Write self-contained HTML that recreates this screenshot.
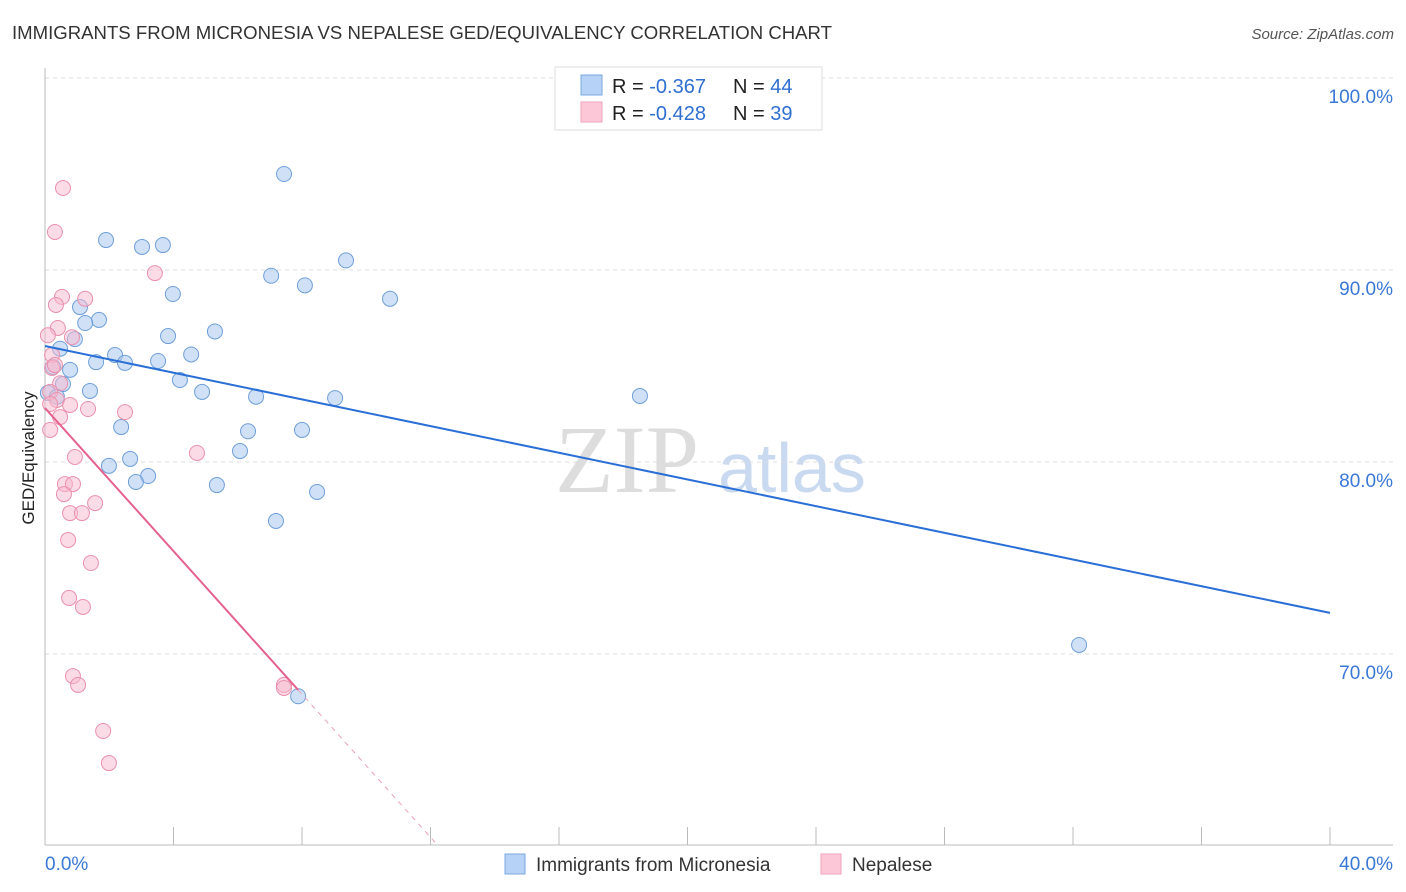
<!DOCTYPE html>
<html><head><meta charset="utf-8"><style>
body{margin:0;background:#fff;font-family:"Liberation Sans",sans-serif;}
svg{display:block}
</style></head><body>
<svg id="c" width="1406" height="892" xmlns="http://www.w3.org/2000/svg">
<text x="12" y="39" font-size="18" fill="#333" textLength="820" lengthAdjust="spacingAndGlyphs">IMMIGRANTS FROM MICRONESIA VS NEPALESE GED/EQUIVALENCY CORRELATION CHART</text>
<text x="1394" y="39" font-size="15" fill="#555" font-style="italic" text-anchor="end">Source: ZipAtlas.com</text>
<text x="34" y="458" font-size="17" fill="#222" text-anchor="middle" transform="rotate(-90 34 458)">GED/Equivalency</text>
<text x="555" y="492" font-size="96" fill="#ddd" font-family="Liberation Serif,serif">ZIP</text>
<text x="718" y="492" font-size="70" fill="#c9daf0">atlas</text>
<g id="grid"></g><g id="marks"></g>
<g>
<rect x="555" y="67" width="267" height="63" fill="#fff" stroke="#ddd"/>
<rect x="581" y="75" width="21" height="20" fill="#b6d2f6" stroke="#7aa8e0"/>
<rect x="581" y="102" width="21" height="20" fill="#fcc8d8" stroke="#eea0b8"/>
<text x="612" y="93" font-size="20" fill="#222">R = <tspan fill="#2f6fd0">-0.367</tspan><tspan x="733">N = </tspan><tspan fill="#2f6fd0">44</tspan></text>
<text x="612" y="120" font-size="20" fill="#222">R = <tspan fill="#2f6fd0">-0.428</tspan><tspan x="733">N = </tspan><tspan fill="#2f6fd0"> 39</tspan></text>
</g>
<g>
<rect x="505" y="854" width="20" height="20" fill="#b6d2f6" stroke="#7aa8e0"/>
<text x="536" y="871" font-size="19" fill="#333">Immigrants from Micronesia</text>
<rect x="821" y="854" width="20" height="20" fill="#fcc8d8" stroke="#eea0b8"/>
<text x="852" y="871" font-size="19" fill="#333">Nepalese</text>
</g>
</svg>
<script>
const blueX=[7.44,1.90,3.02,3.67,9.37,7.04,8.09,3.98,10.74,1.09,1.68,1.25,5.29,3.83,0.93,0.47,4.55,2.18,1.59,2.49,3.52,0.25,0.78,4.2,0.56,4.89,1.4,0.09,0.37,6.57,9.03,18.52,2.37,6.32,8.0,6.07,2.65,1.99,3.21,2.83,5.35,8.47,7.19,32.19,7.88];
const blueY=[95.0,91.56,91.2,91.3,90.5,89.7,89.2,88.75,88.5,88.07,87.4,87.24,86.8,86.56,86.4,85.9,85.6,85.57,85.2,85.16,85.26,84.95,84.8,84.27,84.06,83.65,83.7,83.6,83.4,83.4,83.33,83.44,81.82,81.6,81.67,80.57,80.16,79.8,79.27,78.96,78.8,78.44,76.93,70.47,67.8];
const pinkX=[0.56,0.31,3.42,0.53,1.25,0.34,0.4,0.84,0.09,0.22,0.22,0.47,0.16,0.37,0.78,0.16,1.34,2.49,0.47,0.16,0.93,4.73,0.62,0.87,0.59,1.56,0.78,1.15,0.72,1.43,0.75,1.18,0.87,1.03,7.44,7.44,1.81,1.99,0.31];
const pinkY=[94.27,91.98,89.84,88.6,88.5,88.18,86.98,86.5,86.6,85.57,84.9,84.1,83.65,83.23,82.97,83.02,82.76,82.6,82.34,81.67,80.26,80.47,78.85,78.85,78.33,77.86,77.34,77.34,75.94,74.74,72.92,72.45,68.85,68.39,68.39,68.23,65.99,64.32,85.05];
const blueTrend=[86.04,72.14];
const pinkTrend=[82.81,68.13,7.88];
const yTicks=[100,90,80,70];
const yTickLabels=["100.0%","90.0%","80.0%","70.0%"];
const xTicks=[0,4,8,12,16,20,24,28,32,36,40];

const NS="http://www.w3.org/2000/svg";
const sx=v=>45+v*1285/40;
const sy=v=>78+(100-v)*19.2;
function mk(p,tag,a){const e=document.createElementNS(NS,tag);for(const k in a)e.setAttribute(k,a[k]);p.appendChild(e);return e;}
const g=document.getElementById('grid'),m=document.getElementById('marks');
yTicks.forEach((t,i)=>{
 const l=mk(g,'line',{x1:45,x2:1393,y1:sy(t),y2:sy(t),stroke:'#ddd','stroke-dasharray':'4,4'});
 
 
 const tx=mk(g,'text',{x:1393,y:sy(t)+25,'font-size':19,fill:'#3a78d6','text-anchor':'end'});
 tx.textContent=yTickLabels[i];
 
 
});
const ax=mk(g,'line',{x1:45,x2:45,y1:68,y2:845,stroke:'#bbb'});


const bx=mk(g,'line',{x1:45,x2:1393,y1:845,y2:845,stroke:'#bbb'});


xTicks.forEach(t=>{
 const l=mk(g,'line',{x1:sx(t),x2:sx(t),y1:827,y2:845,stroke:'#bbb'});
 
 
});
[[0,'0.0%','start',45],[40,'40.0%','end',1393]].forEach(d=>{
 const tx=mk(g,'text',{x:d[3],y:870,'font-size':19,fill:'#3a78d6','text-anchor':d[2]});
 tx.textContent=d[1];
 
 
});
blueX.forEach((x,i)=>{
 const c=mk(m,'circle',{cx:sx(x),cy:sy(blueY[i]),r:7.5,fill:'rgba(170,200,240,0.55)',stroke:'#6f9fd8','stroke-width':1});
 
 
});
pinkX.forEach((x,i)=>{
 const c=mk(m,'circle',{cx:sx(x),cy:sy(pinkY[i]),r:7.5,fill:'rgba(248,185,205,0.5)',stroke:'#ea90ad','stroke-width':1});
 
 
});
const bl=mk(m,'line',{x1:sx(0),y1:sy(blueTrend[0]),x2:sx(40),y2:sy(blueTrend[1]),stroke:'#2a6fd6','stroke-width':2});


const pl=mk(m,'line',{x1:sx(0),y1:sy(pinkTrend[0]),x2:sx(pinkTrend[2]),y2:sy(pinkTrend[1]),stroke:'#e5628e','stroke-width':2});


const slope=(pinkTrend[1]-pinkTrend[0])/pinkTrend[2];
const yEnd=60.05, xEnd=(yEnd-pinkTrend[0])/slope;
const pd=mk(m,'line',{x1:sx(pinkTrend[2]),y1:sy(pinkTrend[1]),x2:sx(xEnd),y2:sy(yEnd),stroke:'#e9a0b8','stroke-width':1,'stroke-dasharray':'5,5'});


</script>
</body></html>
